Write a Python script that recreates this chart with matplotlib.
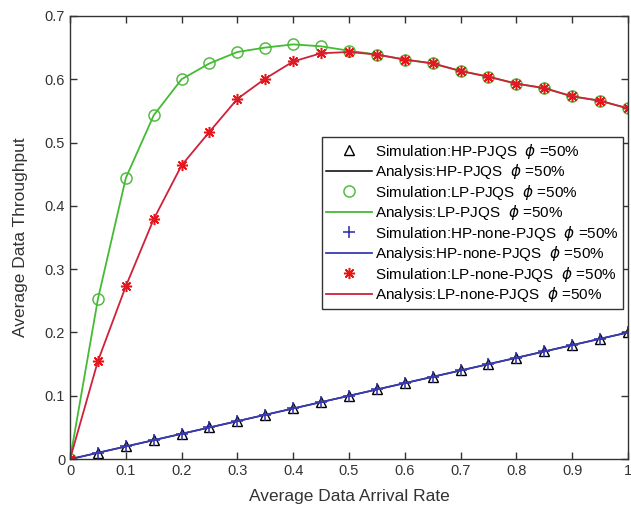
import numpy as np
import matplotlib.pyplot as plt

plt.rcParams['font.family'] = ['Liberation Sans', 'DejaVu Sans']

# arrival rate
x = [0, 0.05, 0.1, 0.15, 0.2, 0.25, 0.3, 0.35, 0.4, 0.45, 0.5,
     0.55, 0.6, 0.65, 0.7, 0.75, 0.8, 0.85, 0.9, 0.95, 1.0]

# HP throughput (same with / without PJQS)
hp_pjqs = [0, 0.01, 0.02, 0.03, 0.04, 0.05, 0.06, 0.07, 0.08, 0.09, 0.10,
           0.11, 0.12, 0.13, 0.14, 0.15, 0.16, 0.17, 0.18, 0.19, 0.20]
hp_none = [0, 0.01, 0.02, 0.03, 0.04, 0.05, 0.06, 0.07, 0.08, 0.09, 0.10,
           0.11, 0.12, 0.13, 0.14, 0.15, 0.16, 0.17, 0.18, 0.19, 0.20]

# LP throughput
lp_pjqs = [0, 0.253, 0.444, 0.543, 0.600, 0.625, 0.643, 0.650, 0.655, 0.652, 0.645,
           0.639, 0.631, 0.625, 0.613, 0.604, 0.593, 0.586, 0.573, 0.566, 0.554]
lp_none = [0, 0.155, 0.273, 0.379, 0.464, 0.517, 0.569, 0.601, 0.628, 0.641, 0.643,
           0.639, 0.631, 0.625, 0.613, 0.604, 0.593, 0.586, 0.573, 0.566, 0.554]

phi = r'  $\phi$ =50%'

fig = plt.figure(figsize=(6.31, 5.13), dpi=100)
ax = fig.add_axes([0.111, 0.105, 0.884, 0.864])

ax.plot(x, hp_pjqs, ls='none', marker='^', mfc='none', mec='black', ms=7, mew=1,
        label='Simulation:HP-PJQS' + phi)
ax.plot(x, hp_pjqs, color='black', lw=1.1, label='Analysis:HP-PJQS' + phi)
ax.plot(x, lp_pjqs, ls='none', marker='o', mfc='none', mec='#55bb44', ms=8, mew=1.1,
        label='Simulation:LP-PJQS' + phi)
ax.plot(x, lp_pjqs, color='#44bb33', lw=1.3, label='Analysis:LP-PJQS' + phi)
ax.plot(x, hp_none, ls='none', marker='+', color='#2a2aa8', ms=8, mew=1.1,
        label='Simulation:HP-none-PJQS' + phi)
ax.plot(x, hp_none, color='#3a3ab8', lw=1.3, label='Analysis:HP-none-PJQS' + phi)
ax.plot(x, lp_none, ls='none', marker=(8, 2, 0), color='#ee1111', ms=8, mew=1.1,
        label='Simulation:LP-none-PJQS' + phi)
ax.plot(x, lp_none, color='#d0203a', lw=1.3, label='Analysis:LP-none-PJQS' + phi)

ax.set_xlim(0, 1)
ax.set_ylim(0, 0.7)
ax.set_xticks(np.arange(0, 1.01, 0.1))
ax.set_xticklabels(['0', '0.1', '0.2', '0.3', '0.4', '0.5', '0.6', '0.7', '0.8', '0.9', '1'])
ax.set_yticks(np.arange(0, 0.71, 0.1))
ax.set_yticklabels(['0', '0.1', '0.2', '0.3', '0.4', '0.5', '0.6', '0.7'])
ax.tick_params(direction='in', top=True, right=True, labelsize=10.5, colors='#333333',
               length=5, width=1)
for s in ax.spines.values():
    s.set_color('#333333')
    s.set_linewidth(1)

ax.set_xlabel('Average Data Arrival Rate', fontsize=12.5, color='#333333', labelpad=8)
ax.set_ylabel('Average Data Throughput', fontsize=12.5, color='#333333', labelpad=12)

leg = ax.legend(loc='upper left', bbox_to_anchor=(0.510, 0.733),
                bbox_transform=fig.transFigure, fontsize=11, handlelength=3.0,
                handletextpad=0.15, labelspacing=0.1, borderpad=0.3,
                borderaxespad=0, fancybox=False, framealpha=1, edgecolor='#333333')
leg.get_frame().set_linewidth(1)

fig.savefig('out.png', dpi=100)
